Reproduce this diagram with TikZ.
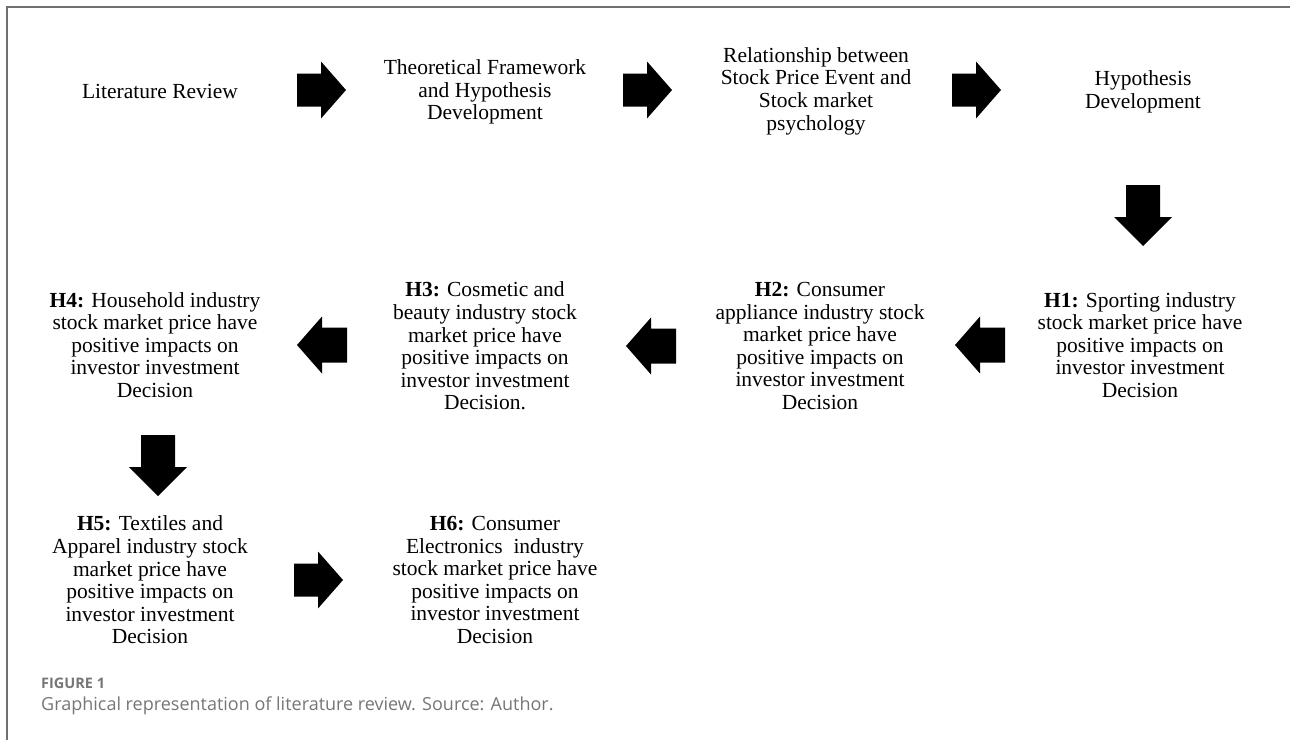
\documentclass[tikz,border=0pt]{standalone}
\usepackage{fontspec}
\setmainfont{Liberation Serif}
\newfontfamily\capfont{Open Sans}
\definecolor{capgray}{HTML}{767676}
\definecolor{framegray}{HTML}{707070}
\tikzset{
  txt/.style={align=center, inner sep=0pt, font=\fontsize{21.5}{22.6}\selectfont},
  rarrow/.pic={\fill[black] (0,-16.5) -- (24,-16.5) -- (24,-28.5) -- (49,0) -- (24,28.5) -- (24,16.5) -- (0,16.5) -- cycle;},
  larrow/.pic={\fill[black] (0,-17.5) -- (-25,-17.5) -- (-25,-28.5) -- (-50,0) -- (-25,28.5) -- (-25,17.5) -- (0,17.5) -- cycle;},
  darrow/.pic={\fill[black] (-17,0) -- (17,0) -- (17,32) -- (29,32) -- (0,61) -- (-29,32) -- (-17,32) -- cycle;}
}
\begin{document}
\begin{tikzpicture}[x=1pt,y=-1pt]
\useasboundingbox (0,0) rectangle (1290,740);
\draw[framegray, line width=1.2pt] (7,740) -- (7,7) -- (1290,7);

\node[txt] (lit) at (160,91) {Literature Review};
\node[txt] (theo) at (485,92) {Theoretical Framework\\and Hypothesis\\Development};
\node[txt] (rel) at (816,91) {Relationship between\\Stock Price Event and\\Stock market\\psychology};
\node[txt] (hyp) at (1143,92) {Hypothesis\\Development};

\node[txt] (h1) at (1140,345) {\textbf{H1:} Sporting industry\\stock market price have\\positive impacts on\\investor investment\\Decision};
\node[txt] (h2) at (820,346) {\textbf{H2:} Consumer\\appliance industry stock\\market price have\\positive impacts on\\investor investment\\Decision};
\node[txt] (h3) at (485,346) {\textbf{H3:} Cosmetic and\\beauty industry stock\\market price have\\positive impacts on\\investor investment\\Decision.};
\node[txt] (h4) at (155,345) {\textbf{H4:} Household industry\\stock market price have\\positive impacts on\\investor investment\\Decision};

\node[txt] (h5) at (150,580) {\textbf{H5:} Textiles and\\Apparel industry stock\\market price have\\positive impacts on\\investor investment\\Decision};
\node[txt] (h6) at (495,580) {\textbf{H6:} Consumer\\Electronics\ \ industry\\stock market price have\\positive impacts on\\investor investment\\Decision};

\pic (a1) at (297,90) {rarrow};
\pic (a2) at (623,90) {rarrow};
\pic (a3) at (952,90) {rarrow};
\pic (a4) at (1143,185) {darrow};
\pic (a5) at (1005,345) {larrow};
\pic (a6) at (676,346) {larrow};
\pic (a7) at (347,345) {larrow};
\pic (a8) at (158,435) {darrow};
\pic (a9) at (294,580) {rarrow};

\node[anchor=west, inner sep=0pt, text=capgray, font=\capfont\bfseries\fontsize{14.5}{17}\selectfont] (fig) at (41,683) {FIGURE 1};
\node[anchor=west, inner sep=0pt, text=capgray, font=\capfont\fontsize{18}{21}\selectfont] (cap) at (41,706) {Graphical representation of literature review. Source: Author.};
\end{tikzpicture}
\end{document}
